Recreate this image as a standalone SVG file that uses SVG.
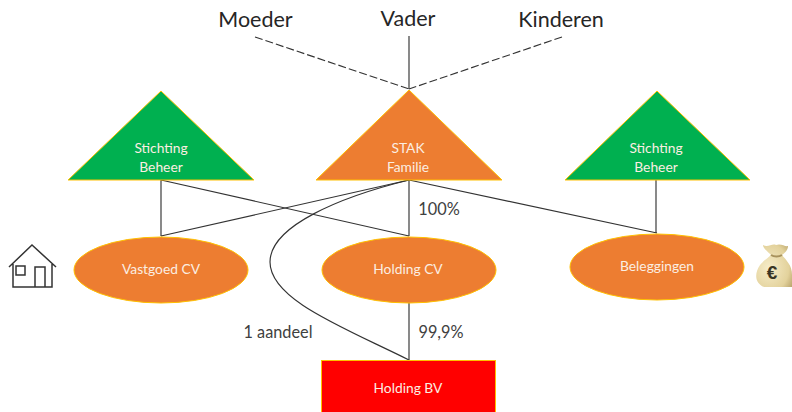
<svg xmlns="http://www.w3.org/2000/svg" width="792" height="412" viewBox="0 0 792 412">
<defs><radialGradient id="bag" cx="0.35" cy="0.55" r="0.8"><stop offset="0" stop-color="#f6ecc8"/><stop offset="0.7" stop-color="#e3d29c"/><stop offset="1" stop-color="#b9a36a"/></radialGradient></defs>
<style>
text{font-family:Lato,"Open Sans","Liberation Sans",sans-serif;text-anchor:middle}
.w{fill:#fbeee2;font-size:13.8px}
.t{fill:#262626;font-size:21.500px}
.p{fill:#404040;font-size:16.300px}
.g{fill:#00b050;stroke:#ffc000;stroke-width:1}
.o{fill:#ed7d31;stroke:#ffc000;stroke-width:1}
.l{fill:none;stroke:#333;stroke-width:1.150}
.d{fill:none;stroke:#333;stroke-width:1.150;stroke-dasharray:8 3}
.h{fill:none;stroke:#333;stroke-width:1.500}
</style>
<rect width="792" height="412" fill="#fff"/>
<g id="connectors">
<path class="d" d="M255 37L409 89"/>
<path class="l" d="M409 36V89"/>
<path class="d" d="M562 37L409 89"/>
<path class="l" d="M161 180V236"/>
<path class="l" d="M161 180L409 236"/>
<path class="l" d="M409 180L161 236"/>
<path class="l" d="M409 180V236"/>
<path class="l" d="M409 180L657 233"/>
<path class="l" d="M656 180V233"/>
<path class="l" d="M409 303V360"/>
<path class="l" d="M409 180C340 197 270 226 270 262C270 300 345 328 409 360"/>
</g>
<g id="moeder"><text class="t" x="255.500" y="27">Moeder</text></g>
<g id="vader"><text class="t" x="408" y="26">Vader</text></g>
<g id="kinderen"><text class="t" x="561" y="27">Kinderen</text></g>
<g id="stichting-links"><path class="g" d="M161 91L254 180H68Z"/><text class="w" x="161" y="153">Stichting</text><text class="w" x="161" y="172">Beheer</text></g>
<g id="stak"><path class="o" d="M409 90L502 180H316Z"/><text class="w" x="408" y="153">STAK</text><text class="w" x="408" y="172">Familie</text></g>
<g id="stichting-rechts"><path class="g" d="M657 91L750 180H565Z"/><text class="w" x="656" y="153">Stichting</text><text class="w" x="656" y="172">Beheer</text></g>
<g id="vastgoed"><ellipse class="o" cx="161" cy="270" rx="87" ry="33"/><text class="w" x="161" y="274">Vastgoed CV</text></g>
<g id="holding-cv"><ellipse class="o" cx="409" cy="270" rx="87" ry="33"/><text class="w" x="408" y="274">Holding CV</text></g>
<g id="beleggingen"><ellipse class="o" cx="657" cy="267" rx="87" ry="33"/><text class="w" x="657" y="271">Beleggingen</text></g>
<g id="holding-bv"><rect x="321.500" y="360.500" width="174" height="52" fill="#f00" stroke="#ffc000"/><text class="w" x="408" y="393">Holding BV</text></g>
<g id="huis"><path class="h" d="M9 267L32 245L56 267M13 264V287H52V264M35 287V267H45V287M16 266H25V275H16Z"/></g>
<g id="geldzak">
<path d="M764 287C755 283 754 274 760 265C763 261 768 258 771 255C767 251 763 248 763 245C768 248 772 243 776 245C781 243 785 247 788 246C788 250 785 253 782 255C786 260 792 265 792 275V287Z" fill="url(#bag)"/>
<path d="M771 255C774 257 779 257 782 255" stroke="#a8925c" stroke-width="2" fill="none"/>
<text x="772" y="279" style="font-family:'Liberation Sans',sans-serif;font-size:19px;font-weight:bold;fill:#3a3524">€</text>
</g>
<g id="labels"><text class="p" x="439" y="215">100%</text><text class="p" x="441" y="338">99,9%</text><text class="p" x="278" y="338">1 aandeel</text></g>
</svg>
